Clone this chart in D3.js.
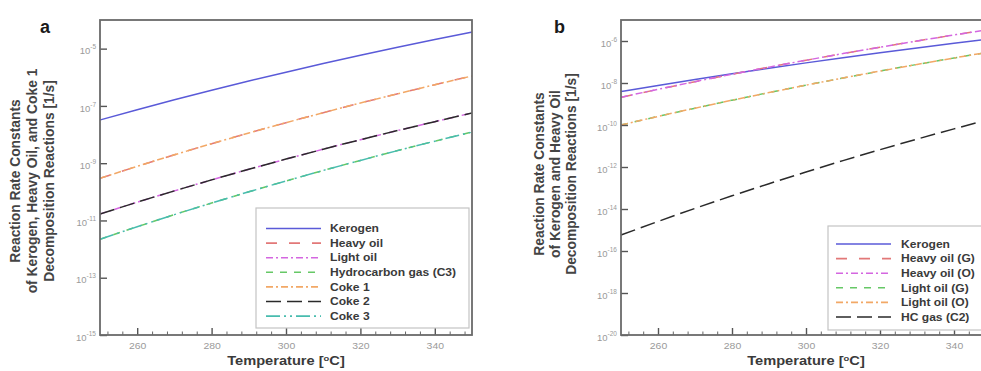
<!DOCTYPE html>
<html>
<head>
<meta charset="utf-8">
<script src="https://cdn.jsdelivr.net/npm/d3@7"></script>
<style>
  body { margin: 0; background: #fff; }
  svg { display: block; }
  text { font-family: "Liberation Sans", Arial, Helvetica, sans-serif; }
</style>
</head>
<body>
<svg id="chart" width="981" height="371"></svg>
<script>
// Temperatures [°C] at which the rate constants are tabulated
const temps = [250, 260, 270, 280, 290, 300, 310, 320, 330, 340, 350];

// Panel a: rate constants [1/s]
const aKerogen   = [3.22e-8, 7.36e-8, 1.63e-7, 3.52e-7, 7.38e-7, 1.51e-6, 3.01e-6, 5.86e-6, 1.12e-5, 2.08e-5, 3.81e-5];
const aHeavyOil  = [2.96e-10, 7.76e-10, 1.96e-9, 4.78e-9, 1.13e-8, 2.59e-8, 5.78e-8, 1.26e-7, 2.65e-7, 5.48e-7, 1.11e-6];
const aLightOil  = [1.68e-11, 4.34e-11, 1.08e-10, 2.61e-10, 6.11e-10, 1.39e-9, 3.07e-9, 6.59e-9, 1.38e-8, 2.82e-8, 5.65e-8];
const aHCGasC3   = [2.20e-12, 6.04e-12, 1.60e-11, 4.06e-11, 1.00e-10, 2.39e-10, 5.56e-10, 1.25e-9, 2.75e-9, 5.87e-9, 1.23e-8];
const aCoke1     = [2.96e-10, 7.76e-10, 1.96e-9, 4.78e-9, 1.13e-8, 2.59e-8, 5.78e-8, 1.26e-7, 2.65e-7, 5.48e-7, 1.11e-6];
const aCoke2     = [1.68e-11, 4.34e-11, 1.08e-10, 2.61e-10, 6.11e-10, 1.39e-9, 3.07e-9, 6.59e-9, 1.38e-8, 2.82e-8, 5.65e-8];
const aCoke3     = [2.20e-12, 6.04e-12, 1.60e-11, 4.06e-11, 1.00e-10, 2.39e-10, 5.56e-10, 1.25e-9, 2.75e-9, 5.87e-9, 1.23e-8];
const aNames     = ["Kerogen", "Heavy oil", "Light oil", "Hydrocarbon gas (C3)", "Coke 1", "Coke 2", "Coke 3"];

// Panel b: rate constants [1/s]
const bKerogen   = [3.89e-9, 7.66e-9, 1.47e-8, 2.76e-8, 5.06e-8, 9.08e-8, 1.60e-7, 2.76e-7, 4.68e-7, 7.80e-7, 1.28e-6];
const bHeavyOilG = [2.09e-9, 5.00e-9, 1.16e-8, 2.61e-8, 5.70e-8, 1.21e-7, 2.51e-7, 5.08e-7, 1.00e-6, 1.94e-6, 3.66e-6];
const bHeavyOilO = [2.09e-9, 5.00e-9, 1.16e-8, 2.61e-8, 5.70e-8, 1.21e-7, 2.51e-7, 5.08e-7, 1.00e-6, 1.94e-6, 3.66e-6];
const bLightOilG = [1.00e-10, 2.56e-10, 6.32e-10, 1.51e-9, 3.50e-9, 7.89e-9, 1.73e-8, 3.68e-8, 7.66e-8, 1.55e-7, 3.08e-7];
const bLightOilO = [1.00e-10, 2.56e-10, 6.32e-10, 1.51e-9, 3.50e-9, 7.89e-9, 1.73e-8, 3.68e-8, 7.66e-8, 1.55e-7, 3.08e-7];
const bHCGasC2   = [5.75e-16, 2.55e-15, 1.07e-14, 4.24e-14, 1.60e-13, 5.79e-13, 2.01e-12, 6.65e-12, 2.12e-11, 6.52e-11, 1.93e-10];
const bNames     = ["Kerogen", "Heavy oil (G)", "Heavy oil (O)", "Light oil (G)", "Light oil (O)", "HC gas (C2)"];

// Axis ticks
const xTicks  = [260, 280, 300, 320, 340];
const aYTicks = [1e-5, 1e-7, 1e-9, 1e-11, 1e-13, 1e-15];
const bYTicks = [1e-6, 1e-8, 1e-10, 1e-12, 1e-14, 1e-16, 1e-18, 1e-20];

// Line styles
const STYLE = {
  kerogen: { color: "#5a5ad8", dash: null },
  heavy:   { color: "#e27878", dash: "11,12" },
  light:   { color: "#d466e0", dash: "7,3,2,3" },
  gas:     { color: "#66c866", dash: "7,7" },
  coke1:   { color: "#f2a866", dash: "7,3,2,3" },
  black:   { color: "#2a2a2a", dash: "15,6" },
  coke3:   { color: "#48bcae", dash: "14,4,2,4,2,4" }
};

const svg = d3.select("#chart");
svg.append("rect").attr("width", 981).attr("height", 371).attr("fill", "#fff");

// Horizontally widen a text run to k times its natural length
function widen(sel, k) {
  sel.each(function () {
    const w = this.getComputedTextLength();
    this.setAttribute("textLength", (w * k).toFixed(1));
    this.setAttribute("lengthAdjust", "spacingAndGlyphs");
  });
}

function drawPanel(cfg) {
  const top = 20, bottom = 335;
  const x = d3.scaleLinear().domain([250, 350]).range([cfg.left, cfg.right]);
  const y = d3.scaleLog().domain(cfg.yDomain).range([bottom, top]);
  const g = svg.append("g");

  const clipId = "clip-" + cfg.id;
  g.append("clipPath").attr("id", clipId)
    .append("rect").attr("x", cfg.left).attr("y", top)
    .attr("width", cfg.right - cfg.left).attr("height", bottom - top);

  // Curves
  const line = d3.line()
    .x(d => x(d[0])).y(d => y(d[1]))
    .curve(d3.curveMonotoneX);
  const plot = g.append("g").attr("clip-path", `url(#${clipId})`);
  cfg.series.forEach(s => {
    plot.append("path")
      .datum(temps.map((t, i) => [t, s.values[i]]))
      .attr("d", line)
      .attr("fill", "none")
      .attr("stroke", s.style.color)
      .attr("stroke-width", 1.5)
      .attr("stroke-dasharray", s.style.dash);
  });

  // Y axis (ticks point inward)
  const yAxis = g.append("g").attr("transform", `translate(${cfg.left},0)`)
    .call(d3.axisLeft(y).tickValues(cfg.yTicks).tickSize(-7).tickPadding(4).tickFormat(() => ""));
  yAxis.select(".domain").remove();
  yAxis.selectAll(".tick line").attr("stroke", "#555").attr("stroke-width", 1.4);
  yAxis.selectAll(".tick text").each(function (d) {
    const e = Math.round(Math.log10(d));
    const t = d3.select(this).attr("fill", "#9a9a9a").attr("font-size", 9.5).attr("dy", "0.55em");
    t.append("tspan").text("10");
    t.append("tspan").attr("font-size", 6.5).attr("dy", -5).text(e);
  });

  // X axis: major and minor ticks pointing inward
  const xMinor = d3.range(252, 350, 4).filter(v => !xTicks.includes(v));
  const xMin = g.append("g").attr("transform", `translate(0,${bottom})`)
    .call(d3.axisBottom(x).tickValues(xMinor).tickSize(-3.5).tickFormat(() => ""));
  xMin.select(".domain").remove();
  xMin.selectAll(".tick line").attr("stroke", "#666").attr("stroke-width", 1);

  const xAxis = g.append("g").attr("transform", `translate(0,${bottom})`)
    .call(d3.axisBottom(x).tickValues(xTicks).tickSize(-7).tickPadding(4).tickFormat(d3.format("d")));
  xAxis.select(".domain").remove();
  xAxis.selectAll(".tick line").attr("stroke", "#555").attr("stroke-width", 1.4);
  xAxis.selectAll(".tick text").attr("fill", "#9a9a9a").attr("font-size", 9.5).attr("dy", "1.05em");
  widen(xAxis.selectAll(".tick text"), 1.1);

  // Frame
  g.append("rect")
    .attr("x", cfg.left).attr("y", top)
    .attr("width", cfg.right - cfg.left).attr("height", bottom - top)
    .attr("fill", "none").attr("stroke", "#6a6a6a").attr("stroke-width", 1.8);

  // X title
  const xt = g.append("text")
    .attr("x", (cfg.left + cfg.right) / 2).attr("y", 365)
    .attr("text-anchor", "middle").attr("font-weight", "bold")
    .attr("font-size", 12.5).attr("fill", "#3a3a3a");
  xt.append("tspan").text("Temperature [");
  xt.append("tspan").attr("font-size", 8).attr("dy", -4).text("o");
  xt.append("tspan").attr("dy", 4).text("C]");
  widen(xt, 1.17);

  // Y title (three rotated lines)
  cfg.yTitle.forEach((str, i) => {
    g.append("text")
      .attr("transform", `translate(${cfg.yTitleX[i]},${cfg.yTitleY}) rotate(-90)`)
      .attr("text-anchor", "middle").attr("dy", "0.35em")
      .attr("font-weight", "bold").attr("font-size", cfg.yTitleSize)
      .attr("fill", "#444").text(str);
  });

  // Panel letter
  g.append("text").attr("x", cfg.letterX).attr("y", 33)
    .attr("font-weight", "bold").attr("font-size", 18).attr("fill", "#1a1a1a")
    .text(cfg.letter);

  // Legend
  const L = cfg.legend;
  g.append("rect").attr("x", L.x).attr("y", L.y).attr("width", L.w).attr("height", L.h)
    .attr("fill", "#fff").attr("stroke", "#c4c4c4").attr("stroke-width", 1.2);
  cfg.series.forEach((s, i) => {
    const yy = L.firstY + i * L.step;
    g.append("line").attr("x1", L.lx1).attr("x2", L.lx2).attr("y1", yy).attr("y2", yy)
      .attr("stroke", s.style.color).attr("stroke-width", 1.6)
      .attr("stroke-dasharray", s.style.dash);
    const t = g.append("text").attr("x", L.tx).attr("y", yy).attr("dy", "0.36em")
      .attr("font-weight", "bold").attr("font-size", 10.5).attr("fill", "#3a3a3a")
      .text(s.name);
    widen(t, 1.15);
  });
}

drawPanel({
  id: "a", letter: "a", letterX: 40,
  left: 100, right: 472, yDomain: [1e-15, 1e-4], yTicks: aYTicks,
  yTitle: ["Reaction Rate Constants", "of Kerogen, Heavy Oil, and Coke 1", "Decomposition Reactions [1/s]"],
  yTitleX: [15, 32, 49], yTitleY: 181, yTitleSize: 13.8,
  series: [
    { name: aNames[0], values: aKerogen, style: STYLE.kerogen },
    { name: aNames[1], values: aHeavyOil, style: STYLE.heavy },
    { name: aNames[2], values: aLightOil, style: STYLE.light },
    { name: aNames[3], values: aHCGasC3, style: STYLE.gas },
    { name: aNames[4], values: aCoke1, style: STYLE.coke1 },
    { name: aNames[5], values: aCoke2, style: STYLE.black },
    { name: aNames[6], values: aCoke3, style: STYLE.coke3 }
  ],
  legend: { x: 256, y: 208, w: 213, h: 120, firstY: 228.5, step: 14.6, lx1: 266, lx2: 321, tx: 330 }
});

drawPanel({
  id: "b", letter: "b", letterX: 554,
  left: 621, right: 991, yDomain: [1e-20, 1e-5], yTicks: bYTicks,
  yTitle: ["Reaction Rate Constants", "of Kerogen and Heavy Oil", "Decomposition Reactions [1/s]"],
  yTitleX: [539, 555, 571], yTitleY: 174, yTitleSize: 13.8,
  series: [
    { name: bNames[0], values: bKerogen, style: STYLE.kerogen },
    { name: bNames[1], values: bHeavyOilG, style: STYLE.heavy },
    { name: bNames[2], values: bHeavyOilO, style: STYLE.light },
    { name: bNames[3], values: bLightOilG, style: STYLE.gas },
    { name: bNames[4], values: bLightOilO, style: STYLE.coke1 },
    { name: bNames[5], values: bHCGasC2, style: STYLE.black }
  ],
  legend: { x: 828, y: 226, w: 200, h: 104, firstY: 244, step: 14.6, lx1: 836, lx2: 891, tx: 901 }
});
</script>
</body>
</html>
